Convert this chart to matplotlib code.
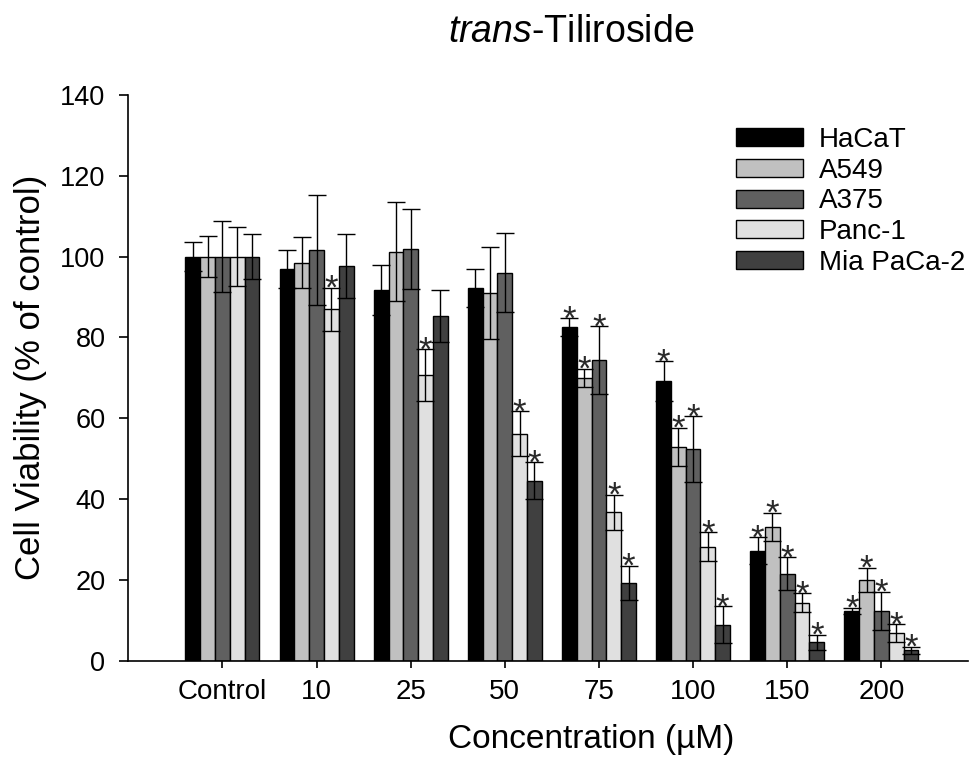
import matplotlib
matplotlib.use("Agg")
import matplotlib.pyplot as plt
import numpy as np

plt.rcParams['font.family'] = ['Liberation Sans', 'DejaVu Sans']
plt.rcParams['mathtext.fontset'] = 'custom'
plt.rcParams['mathtext.it'] = 'Liberation Sans:italic'
plt.rcParams['mathtext.rm'] = 'Liberation Sans'

categories = ["Control", "10", "25", "50", "75", "100", "150", "200"]
series_names = ["HaCaT", "A549", "A375", "Panc-1", "Mia PaCa-2"]

hacat = [100, 97.0, 91.8, 92.2, 82.5, 69.2, 27.3, 12.4]
hacat_err = [3.5, 4.7, 6.2, 4.7, 2.2, 5.0, 3.3, 0.8]
a549 = [100, 98.5, 101.2, 90.9, 70.0, 52.9, 33.2, 20.1]
a549_err = [5.0, 6.4, 12.3, 11.4, 2.3, 4.8, 3.5, 3.0]
a375 = [100, 101.6, 101.8, 96.0, 74.4, 52.4, 21.6, 12.4]
a375_err = [8.7, 13.7, 9.9, 9.8, 8.4, 8.1, 4.0, 4.7]
panc1 = [100, 87.0, 70.7, 56.2, 36.8, 28.2, 14.4, 6.9]
panc1_err = [7.3, 5.3, 6.4, 5.6, 4.3, 3.6, 2.4, 2.2]
miapaca2 = [100, 97.6, 85.3, 44.6, 19.3, 9.0, 4.6, 2.6]
miapaca2_err = [5.5, 7.9, 6.4, 4.6, 4.3, 4.6, 1.9, 0.9]

hacat_sig = [0, 0, 0, 0, 1, 1, 1, 1]
a549_sig = [0, 0, 0, 0, 1, 1, 1, 1]
a375_sig = [0, 0, 0, 0, 1, 1, 1, 1]
panc1_sig = [0, 1, 1, 1, 1, 1, 1, 1]
miapaca2_sig = [0, 0, 0, 1, 1, 1, 1, 1]

values = [hacat, a549, a375, panc1, miapaca2]
errors = [hacat_err, a549_err, a375_err, panc1_err, miapaca2_err]
sigs = [hacat_sig, a549_sig, a375_sig, panc1_sig, miapaca2_sig]
colors = ["#000000", "#c0c0c0", "#606060", "#e0e0e0", "#404040"]

W, H = 969, 762
fig = plt.figure(figsize=(W / 100, H / 100), dpi=100)
ax_left, ax_right, ax_bottom, ax_top = 128.3, 968, 661, 94.7
ax = fig.add_axes([ax_left / W, 1 - ax_bottom / H, (ax_right - ax_left) / W, (ax_bottom - ax_top) / H])

x = np.arange(len(categories))
bw = 0.157
for i, (vals, errs, sg, col, name) in enumerate(zip(values, errors, sigs, colors, series_names)):
    pos = x + (i - 2) * bw
    ax.bar(pos, vals, width=bw, color=col, edgecolor="black", linewidth=1.0, label=name, zorder=2)
    ax.errorbar(pos, vals, yerr=errs, fmt="none", ecolor="black", elinewidth=1.0,
                capsize=6.5, capthick=1.0, zorder=3)
    for p, v, e, s in zip(pos, vals, errs, sg):
        if s:
            ax.annotate("*", xy=(p, v + e), xytext=(0, -8.1), textcoords="offset points",
                        ha="center", va="baseline", fontsize=25, color="#2a2a2a", zorder=4)

ax.set_xlim(-1, (ax_right - 222.7) / 94.1)
ax.set_ylim(0, 140)
ax.set_yticks(np.arange(0, 141, 20))
ax.set_xticks(x)
ax.set_xticklabels(categories)
for s in ["top", "right"]:
    ax.spines[s].set_visible(False)
for s in ["left", "bottom"]:
    ax.spines[s].set_linewidth(1.2)
ax.tick_params(axis="y", direction="out", length=6.5, width=1.2, pad=10, labelsize=19.5)
ax.tick_params(axis="x", direction="out", length=5, width=1.2, pad=8, labelsize=20)

ax.set_xlabel("Concentration (µM)", fontsize=24)
ax.xaxis.set_label_coords((591.5 - ax_left) / (ax_right - ax_left), -(724 - ax_bottom) / (ax_bottom - ax_top))
ax.set_ylabel("Cell Viability (% of control)", fontsize=25)
ax.yaxis.set_label_coords(-(ax_left - 47) / (ax_right - ax_left), 0.5)

fig.text(571 / W, 1 - 32 / H, r"$\mathit{trans}$-Tiliroside", fontsize=27, ha="center", va="center")

leg = ax.legend(loc="upper left", bbox_to_anchor=(736 / W, 1 - 127 / H), bbox_transform=fig.transFigure,
                frameon=False, fontsize=20, handlelength=2.4, handleheight=0.62, handletextpad=0.58,
                labelspacing=0.17, borderpad=0, borderaxespad=0)

fig.savefig("out.png", dpi=100)
